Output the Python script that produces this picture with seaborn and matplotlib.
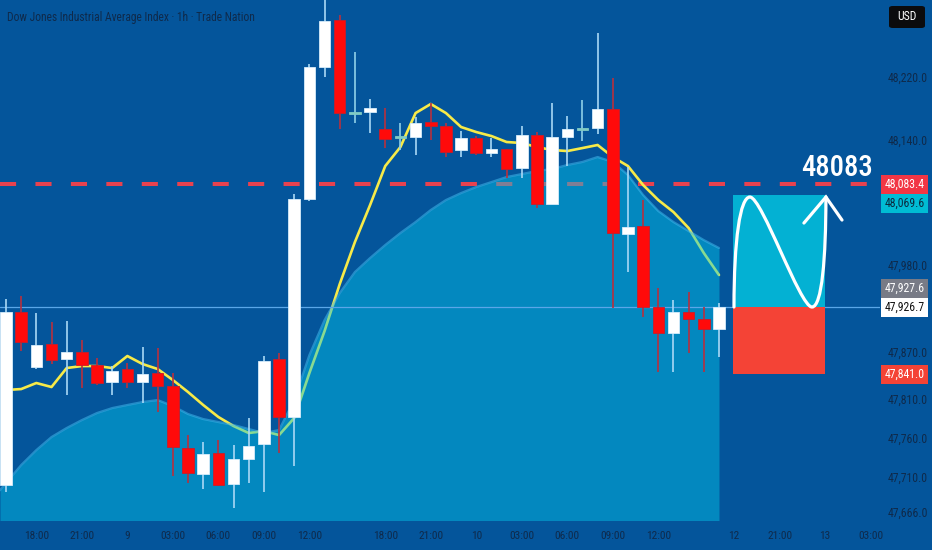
import numpy as np
import pandas as pd
import matplotlib
matplotlib.use("Agg")
import matplotlib.pyplot as plt
import matplotlib.transforms as mtransforms
from matplotlib.patches import Rectangle, FancyBboxPatch, PathPatch
from matplotlib.path import Path
from matplotlib import font_manager
import seaborn as sns

# --- dados (velas de 1h) ---
opens = [47699.9, 47920.3, 47850.3, 47879.6, 47860.5, 47869.4, 47852.8, 47831.2,
         47847.7, 47831.2, 47842.6, 47826.1, 47747.1, 47714.0, 47740.7, 47701.2,
         47733.1, 47752.2, 47860.5, 47786.6, 48064.3, 48232.4, 48292.3, 48174.0,
         48175.1, 48153.5, 48143.6, 48143.3, 48162.4, 48157.3, 48126.7, 48142.0,
         48122.9, 48128.0, 48103.8, 48145.8, 48057.9, 48143.3, 48153.7, 48154.7,
         48178.9, 48019.7, 48029.9, 47926.7, 47893.6, 47920.3, 47911.4, 47898.7]
closes = [47920.3, 47882.1, 47878.3, 47859.2, 47869.4, 47852.8, 47829.9, 47845.2,
          47831.2, 47841.3, 47826.1, 47748.4, 47715.2, 47739.4, 47699.9, 47733.1,
          47749.6, 47857.9, 47786.6, 48064.3, 48232.4, 48291.0, 48173.8, 48173.5,
          48180.2, 48140.7, 48143.3, 48161.1, 48157.3, 48124.1, 48142.0, 48122.9,
          48128.0, 48102.5, 48145.8, 48057.9, 48143.3, 48153.5, 48153.5, 48178.9,
          48021.0, 48028.6, 47926.7, 47893.6, 47920.3, 47911.4, 47898.7, 47926.7]
highs = [47936.9, 47940.7, 47919.1, 47907.6, 47908.9, 47884.7, 47861.7, 47851.5,
         47855.4, 47875.7, 47874.5, 47842.6, 47763.6, 47754.7, 47757.3, 47750.9,
         47785.3, 47864.3, 47868.1, 48070.7, 48236.3, 48325.0, 48298.7, 48251.5,
         48191.7, 48180.2, 48161.1, 48168.7, 48186.6, 48161.1, 48150.9, 48144.5,
         48142.0, 48128.0, 48157.3, 48149.6, 48186.6, 48170.0, 48190.4, 48275.8,
         48218.4, 48105.0, 48063.0, 47950.9, 47935.6, 47945.8, 47926.7, 47931.8]
lows = [47691.0, 47870.7, 47847.7, 47854.1, 47814.6, 47823.5, 47827.3, 47814.6,
        47823.5, 47804.4, 47792.9, 47711.4, 47702.5, 47694.9, 47698.7, 47670.6,
        47702.5, 47691.0, 47740.7, 47724.1, 48062.0, 48219.7, 48153.5, 48161.1,
        48148.4, 48129.2, 48126.7, 48120.3, 48139.4, 48117.8, 48117.8, 48120.3,
        48117.8, 48091.0, 48091.0, 48052.8, 48057.9, 48106.3, 48138.2, 48147.1,
        47925.4, 47971.3, 47914.0, 47843.9, 47843.9, 47868.1, 47843.9, 47863.0]

# media rapida (linha amarela) e media lenta (area)
ma_fast = [47821.0, 47822.2, 47829.9, 47824.8, 47849.0, 47851.5, 47851.5, 47849.0,
           47864.3, 47854.1, 47847.7, 47833.7, 47818.4, 47801.9, 47786.6, 47775.1,
           47766.2, 47768.7, 47763.6, 47785.3, 47842.6, 47896.1, 47956.0, 48009.5,
           48056.6, 48106.3, 48130.5, 48173.8, 48185.3, 48173.8, 48156.0, 48149.6,
           48144.5, 48136.9, 48135.6, 48130.5, 48126.7, 48125.4, 48129.2, 48133.1,
           48117.8, 48106.3, 48082.1, 48063.0, 48047.7, 48027.3, 47995.5, 47967.5]
ma_slow = [47702.5, 47725.4, 47744.5, 47761.1, 47772.6, 47782.7, 47791.7, 47798.0,
           47801.9, 47805.7, 47808.2, 47800.6, 47790.4, 47784.0, 47780.2, 47776.4,
           47771.3, 47766.2, 47770.0, 47808.2, 47865.6, 47910.1, 47944.5, 47971.3,
           47989.1, 48005.7, 48021.0, 48035.0, 48050.3, 48063.0, 48071.9, 48079.6,
           48085.9, 48092.3, 48096.1, 48100.0, 48102.5, 48107.6, 48111.5, 48117.8,
           48111.5, 48094.9, 48069.4, 48049.0, 48035.0, 48023.5, 48012.0, 48001.9]

xtick_pos = [2, 5, 8, 11, 14, 17, 20, 25, 28, 31, 34, 37, 40, 43, 48, 51, 54, 57]
xtick_labels = ["18:00", "21:00", "9", "03:00", "06:00", "09:00", "12:00",
                "18:00", "21:00", "10", "03:00", "06:00", "09:00", "12:00",
                "12", "21:00", "13", "03:00"]
ytick_vals = [48220.0, 48140.0, 47980.0, 47870.0, 47810.0, 47760.0, 47710.0, 47666.0]
ytick_labels = ["48,220.0", "48,140.0", "47,980.0", "47,870.0",
                "47,810.0", "47,760.0", "47,710.0", "47,666.0"]

resistance = 48083.4
last_price = 47926.7
prev_price = 47927.6
target = 48069.6
stop = 47841.0
pos_start, pos_end = 47.92, 54.0

# desenho a mao (onda + seta) em coordenadas de barra / preco
wave_x = [47.99, 47.99, 48.39, 49.04, 49.83, 52.34, 53.13, 53.79, 54.05, 54.05]
wave_y = [47926.7, 48012.0, 48066.8, 48066.8, 48066.8, 47926.7, 47926.7, 47926.7, 47990.0, 48066.8]
arrow_l = (52.60, 48033.7)
arrow_r = (55.11, 48037.5)
big_label = "48083"
title = "Dow Jones Industrial Average Index \u00b7 1h \u00b7 Trade Nation"

BG = "#04559b"
TXT = "#0f2a4b"
XMIN, XMAX = -0.3955, 57.615

sns.set_style("dark", {"axes.facecolor": BG, "figure.facecolor": BG})
names = {f.name for f in font_manager.fontManager.ttflist}
FONT = next((n for n in ["Liberation Sans Narrow", "Roboto Condensed", "Liberation Sans"] if n in names), "DejaVu Sans")
plt.rcParams['font.family'] = [FONT, 'DejaVu Sans']

fig = plt.figure(figsize=(9.32, 5.5), dpi=100)
ax = fig.add_axes([0, 30 / 550, 880 / 932, 520 / 550])
ax.set_facecolor(BG)
idx = np.arange(len(opens))

# linha tracejada de resistencia (fica por baixo da area)
ax.axhline(resistance, color="#e8424f", lw=2.9, dashes=(4, 4.8), zorder=1.5)

# media rapida
sns.lineplot(x=idx, y=ma_fast, ax=ax, color="#f7ea48", lw=1.9, zorder=2)

# area da media lenta, translucida por cima da linha (prolongada ate a borda esquerda)
area_x = np.concatenate([[XMIN], idx])
area_y = np.concatenate([[ma_slow[0] - 0.4 * (ma_slow[1] - ma_slow[0])], ma_slow])
ax.fill_between(area_x, 47500, area_y, color="#03c8eb", alpha=0.45, lw=0, zorder=3)
ax.plot(area_x, area_y, color="#3fb8ec", lw=1.6, alpha=0.55, zorder=3.1)

ax.axhline(last_price, color="#5aa6e8", lw=0.9, zorder=3.5)

# velas
for i in idx:
    o, c, h, l = opens[i], closes[i], highs[i], lows[i]
    if abs(c - o) < 1.0:
        body, wick, edge = "#80cbc4", "#8fd0e8", "#80cbc4"
    elif c > o:
        body, wick, edge = "#ffffff", "#a9d8f6", "#d6ecfb"
    else:
        body, wick, edge = "#ff0a0a", "#b8303e", "#c81c2a"
    ax.vlines(i, l, h, color=wick, lw=1.2, zorder=4)
    hgt = max(abs(c - o), 2.2)
    ax.bar(i, hgt, bottom=min(o, c) - (hgt - abs(c - o)) / 2, width=0.76,
           color=body, edgecolor=edge, lw=0.6, zorder=4.2)

# caixa de posicao comprada
ax.add_patch(Rectangle((pos_start, last_price), pos_end - pos_start, target - last_price,
                       fc="#03b1d3", ec="none", zorder=5))
ax.add_patch(Rectangle((pos_start, stop), pos_end - pos_start, last_price - stop,
                       fc="#f44336", ec="none", zorder=5))

codes = [Path.MOVETO, Path.CURVE4, Path.CURVE4, Path.CURVE4,
         Path.CURVE4, Path.CURVE4, Path.CURVE4, Path.CURVE4, Path.CURVE4, Path.CURVE4]
wave = Path(np.column_stack([wave_x, wave_y]), codes)
ax.add_patch(PathPatch(wave, fc="none", ec="white", lw=2.3, capstyle="round", zorder=6))
tip = (wave_x[-1], wave_y[-1])
ax.plot([arrow_l[0], tip[0], arrow_r[0]], [arrow_l[1], tip[1], arrow_r[1]],
        color="white", lw=2.3, solid_capstyle="round", solid_joinstyle="miter", zorder=6)

big = ax.text(54.78, 48093.6, big_label, color="white", ha="center", va="baseline",
              fontsize=22, fontweight="medium", zorder=6)

ax.set_xlim(XMIN, XMAX)
ax.set_ylim(47655.4, 48317.8)
ax.set_xticks(xtick_pos)
ax.set_xticklabels(xtick_labels)
ax.yaxis.tick_right()
ax.set_yticks(ytick_vals)
ax.set_yticklabels(ytick_labels)
ax.tick_params(axis="x", length=0, pad=8, labelsize=8.2, colors=TXT)
ax.tick_params(axis="y", length=0, pad=5.5, labelsize=8.5, colors=TXT)
ax.grid(False)
for s in ax.spines.values():
    s.set_visible(False)
ax.set_xlabel("")
ax.set_ylabel("")

# etiquetas de preco do eixo direito
tr = mtransforms.blended_transform_factory(ax.transAxes, ax.transData)
box_h = 19 * 1.2739
x0, x1 = 881 / 880, 928 / 880
tags = [
    (resistance, "48,083.4", "#f23645", "white"),
    (resistance - box_h, "48,069.6", "#00bcd4", "#0b2a3f"),
    (last_price + box_h, "47,927.6", "#787b86", "white"),
    (last_price, "47,926.7", "#ffffff", "#111111"),
    (stop, "47,841.0", "#f44336", "white"),
]
for yv, txt, fc, tc in tags:
    ax.add_patch(Rectangle((x0, yv - box_h / 2), x1 - x0, box_h, transform=tr,
                           fc=fc, ec="none", clip_on=False, zorder=7))
    ax.text((x0 + x1) / 2, yv, txt, transform=tr, ha="center", va="center",
            color=tc, fontsize=8.5, clip_on=False, zorder=8)

# titulo e caixa USD
ttl = fig.text(7 / 932, 1 - 17 / 550, title, ha="left", va="center", color=TXT, fontsize=9)
fig.patches.append(FancyBboxPatch((889 / 932, 1 - 28 / 550), 36 / 932, 22 / 550,
                                  boxstyle="round,pad=0,rounding_size=0.004",
                                  transform=fig.transFigure, fc="#0b0b0d", ec="none"))
fig.text(907 / 932, 1 - 17 / 550, "USD", ha="center", va="center", color="white", fontsize=8.5)

# ajusta largura dos textos ao desenho original
rend = fig.canvas.get_renderer()
for t, target_w in [(ttl, 249), (big, 72)]:
    w = t.get_window_extent(rend).width
    t.set_fontsize(t.get_fontsize() * target_w / w)

fig.savefig("out.png", dpi=100, facecolor=BG)
